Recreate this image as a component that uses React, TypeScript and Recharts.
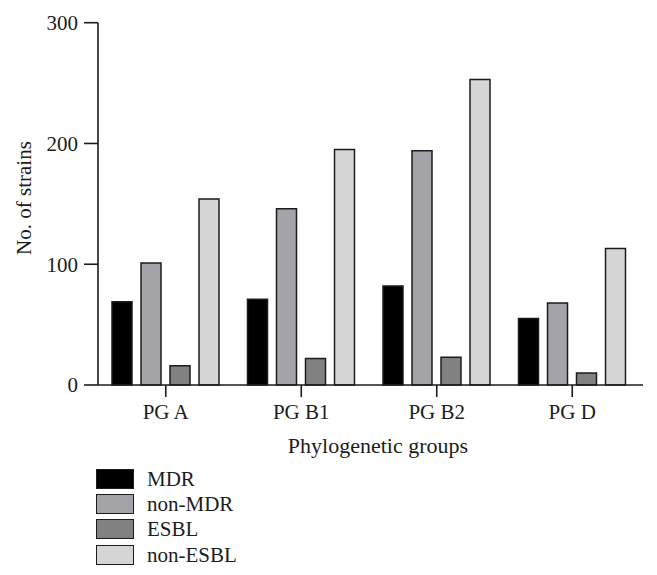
import { BarChart, Bar, XAxis, YAxis } from 'recharts'

const groups = ['PG A', 'PG B1', 'PG B2', 'PG D']
const mdr = [69, 71, 82, 55]
const nonMdr = [101, 146, 194, 68]
const esbl = [16, 22, 23, 10]
const nonEsbl = [154, 195, 253, 113]
const yTicks = [0, 100, 200, 300]

const series = [
    { key: 'mdr', name: 'MDR', color: '#000000' },
    { key: 'nonMdr', name: 'non-MDR', color: '#a4a4a8' },
    { key: 'esbl', name: 'ESBL', color: '#818181' },
    { key: 'nonEsbl', name: 'non-ESBL', color: '#d5d5d5' },
]

const data = groups.map((g, i) => ({
    group: g,
    mdr: mdr[i],
    nonMdr: nonMdr[i],
    esbl: esbl[i],
    nonEsbl: nonEsbl[i],
}))

const font = '"Liberation Serif", "Times New Roman", serif'
const ink = '#1c1c1c'

function LegendBox() {
    return (
        <div style={{ position: 'absolute', left: 96, top: 466, fontFamily: font, fontSize: 21, color: ink }}>
            {series.map((s) => (
                <div key={s.key} style={{ display: 'flex', alignItems: 'center', height: 25.3 }}>
                    <div style={{ width: 36, height: 18, background: s.color, border: `1.5px solid ${ink}` }} />
                    <span style={{ marginLeft: 13, lineHeight: '20px' }}>{s.name}</span>
                </div>
            ))}
        </div>
    )
}

export default function App() {
    return (
        <div style={{ position: 'absolute', left: 0, top: 0, width: 657, height: 575, background: '#fff' }}>
            <BarChart
                width={657}
                height={575}
                data={data}
                margin={{ top: 22.7, right: 14, bottom: 130, left: 0 }}
                barSize={20}
                barGap={9}
            >
                <YAxis
                    width={98}
                    domain={[0, 300]}
                    ticks={yTicks}
                    interval={0}
                    tickSize={14}
                    tickMargin={6}
                    axisLine={{ stroke: ink, strokeWidth: 1.6 }}
                    tickLine={{ stroke: ink, strokeWidth: 1.6 }}
                    tick={{ fill: ink, fontSize: 21, fontFamily: font }}
                    label={{
                        content: () => (
                            <text x={31} y={198} transform="rotate(-90 31 198)" textAnchor="middle"
                                fill={ink} fontSize={21} fontFamily={font}>
                                No. of strains
                            </text>
                        ),
                    }}
                />
                <XAxis
                    dataKey="group"
                    height={60}
                    padding={{ left: 0, right: 3 }}
                    tickSize={12}
                    tickMargin={7}
                    axisLine={{ stroke: ink, strokeWidth: 1.6 }}
                    tickLine={{ stroke: ink, strokeWidth: 1.6 }}
                    tick={{ fill: ink, fontSize: 21, fontFamily: font }}
                    label={{
                        content: () => (
                            <text x={378} y={453} textAnchor="middle" fill={ink} fontSize={22} fontFamily={font}>
                                Phylogenetic groups
                            </text>
                        ),
                    }}
                />
                {series.map((s) => (
                    <Bar key={s.key} dataKey={s.key} name={s.name} fill={s.color}
                        stroke={ink} strokeWidth={1.5} isAnimationActive={false} />
                ))}
            </BarChart>
            <LegendBox />
        </div>
    )
}
